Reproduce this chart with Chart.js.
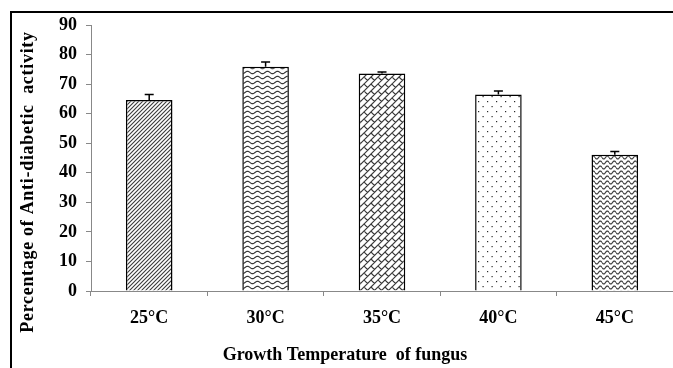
<!DOCTYPE html>
<html lang="en">
<head>
<meta charset="UTF-8">
<title>Growth Temperature vs Anti-diabetic activity</title>
<script src="https://cdn.jsdelivr.net/npm/chart.js"></script>
<style>
    html, body { margin: 0; padding: 0; background: #fff; overflow: hidden; }
</style>
</head>
<body>
<canvas id="tempChart" width="673" height="368"></canvas>

<script>
// data
const temps = ['25°C', '30°C', '35°C', '40°C', '45°C'];
const activity = [64.6, 75.9, 73.6, 66.5, 46.1];
const errors = [1.9, 1.6, 0.5, 1.2, 1.1];
const yMin = 0, yMax = 90, yStep = 10;

const xTitle = 'Growth Temperature  of fungus';
const yTitle = 'Percentage of Anti-diabetic  activity';

const ctx = document.getElementById('tempChart').getContext('2d');
const FONT = '"Liberation Serif", "Times New Roman", serif';

// hatch fills, one per bar
function makePattern(w, h, draw) {
    const c = document.createElement('canvas');
    c.width = w; c.height = h;
    const g = c.getContext('2d');
    g.fillStyle = '#fff';
    g.fillRect(0, 0, w, h);
    g.strokeStyle = '#3a3a3a';
    g.fillStyle = '#2a2a2a';
    draw(g, w, h);
    return ctx.createPattern(c, 'repeat');
}

function wave(g, w, h, amp, lw) {
    g.lineWidth = lw;
    g.beginPath();
    for (let x = 0; x <= w; x += 0.5) {
        const y = h / 2 + amp * Math.sin(2 * Math.PI * x / w);
        if (x === 0) g.moveTo(x, y); else g.lineTo(x, y);
    }
    g.stroke();
}

const patterns = [
    makePattern(4, 4, (g) => {
        g.lineWidth = 1.1;
        g.beginPath();
        g.moveTo(0, 4); g.lineTo(4, 0);
        g.moveTo(-1, 1); g.lineTo(1, -1);
        g.moveTo(3, 5); g.lineTo(5, 3);
        g.stroke();
    }),
    makePattern(10, 5, (g, w, h) => wave(g, w, h, 1.2, 1.2)),
    makePattern(14, 14, (g) => {
        g.lineWidth = 1.1;
        const segs = [
            [0, 7, 7, 0], [0, 14, 14, 0], [7, 14, 14, 7], [-7, 7, 7, -7], [7, 21, 21, 7],
            [0, 0, 3.5, 3.5], [7, 0, 10.5, 3.5], [7, 7, 10.5, 10.5], [0, 7, 3.5, 10.5], [14, 7, 17.5, 10.5]
        ];
        g.beginPath();
        for (const dx of [-14, 0, 14]) {
            for (const dy of [-14, 0, 14]) {
                segs.forEach(s => { g.moveTo(s[0] + dx, s[1] + dy); g.lineTo(s[2] + dx, s[3] + dy); });
            }
        }
        g.stroke();
    }),
    makePattern(9, 10, (g) => {
        g.fillRect(1, 1, 1.2, 1.2);
        g.fillRect(5.5, 6, 1.2, 1.2);
    }),
    makePattern(7, 5, (g, w, h) => wave(g, w, h, 1.5, 1.2))
];

// outer frame of the figure (only top and left edges show in the crop)
const frame = {
    id: 'frame',
    beforeDraw(chart) {
        const c = chart.ctx;
        c.save();
        c.strokeStyle = '#000';
        c.lineWidth = 2;
        c.beginPath();
        c.moveTo(11, chart.height);
        c.lineTo(11, 12);
        c.lineTo(chart.width, 12);
        c.stroke();
        c.restore();
    }
};

const errorBars = {
    id: 'errorBars',
    afterDatasetsDraw(chart) {
        const meta = chart.getDatasetMeta(0);
        const y = chart.scales.y;
        const c = chart.ctx;
        c.save();
        c.strokeStyle = '#000';
        c.lineWidth = 1.5;
        meta.data.forEach((bar, i) => {
            const top = y.getPixelForValue(activity[i]);
            const hi = y.getPixelForValue(activity[i] + errors[i]);
            c.beginPath();
            c.moveTo(bar.x, top);
            c.lineTo(bar.x, hi);
            c.moveTo(bar.x - 4.5, hi);
            c.lineTo(bar.x + 4.5, hi);
            c.stroke();
        });
        c.restore();
    }
};

// axis titles sit where the original figure put them, not centred on the plot
const axisTitles = {
    id: 'axisTitles',
    afterDraw(chart) {
        const c = chart.ctx;
        c.save();
        c.fillStyle = '#000';
        c.font = 'bold 18px ' + FONT;
        c.textAlign = 'center';
        c.textBaseline = 'middle';
        c.fillText(xTitle, 345, 355);
        c.translate(28.5, 182);
        c.rotate(-Math.PI / 2);
        c.letterSpacing = '0.7px';
        c.fillText(yTitle, 0, 0);
        c.restore();
    }
};

new Chart(ctx, {
    type: 'bar',
    data: {
        labels: temps,
        datasets: [{
            data: activity,
            backgroundColor: patterns,
            borderColor: '#000',
            borderWidth: 1.5,
            categoryPercentage: 0.8,
            barPercentage: 0.5
        }]
    },
    options: {
        responsive: false,
        animation: false,
        devicePixelRatio: 1,
        layout: { padding: { top: 25, right: 0, left: 0, bottom: 0 } },
        plugins: {
            legend: { display: false },
            tooltip: { enabled: false }
        },
        scales: {
            x: {
                afterFit(scale) { scale.height = 77; },
                grid: { offset: true, drawOnChartArea: false, tickLength: 5, color: '#888' },
                border: { color: '#888', width: 1 },
                ticks: { color: '#000', padding: 12, font: { family: FONT, size: 18, weight: 'bold' } }
            },
            y: {
                min: yMin,
                max: yMax,
                afterFit(scale) { scale.width = 91; },
                grid: { drawOnChartArea: false, tickLength: 5, color: '#888' },
                border: { color: '#888', width: 1 },
                ticks: { stepSize: yStep, color: '#000', padding: 9, font: { family: FONT, size: 18, weight: 'bold' } }
            }
        }
    },
    plugins: [frame, errorBars, axisTitles]
});
</script>
</body>
</html>
